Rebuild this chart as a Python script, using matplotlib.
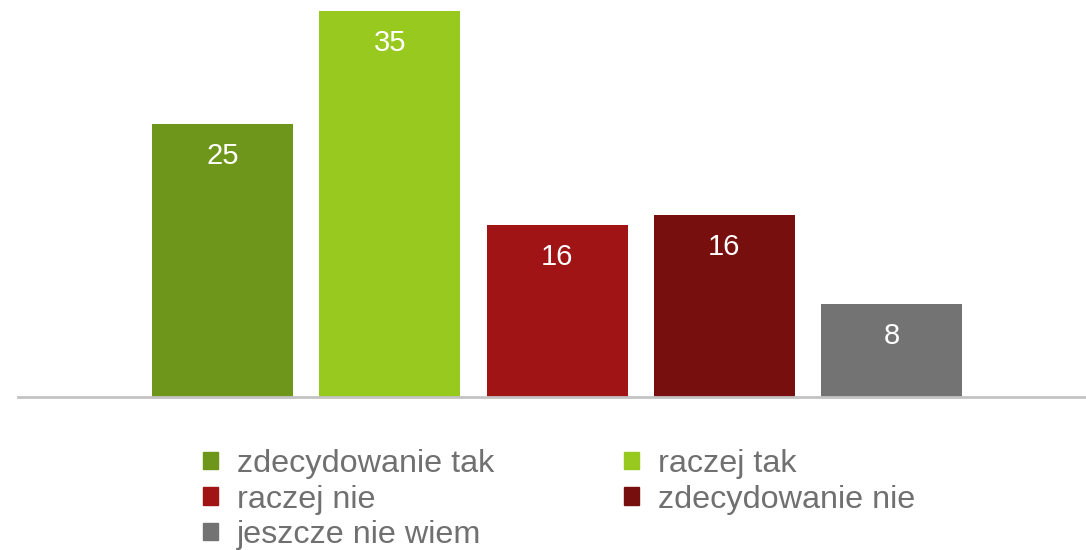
import numpy as np
import matplotlib
matplotlib.use("Agg")
import matplotlib.pyplot as plt
from matplotlib.patches import Patch

plt.rcParams['font.family'] = ['Liberation Sans', 'DejaVu Sans']

# dane
kategorie = ["zdecydowanie tak", "raczej tak", "raczej nie", "zdecydowanie nie", "jeszcze nie wiem"]
wartosci = [24.8, 35.0, 15.6, 16.5, 8.4]
etykiety = ["25", "35", "16", "16", "8"]
kolory = ["#6e961a", "#97c91f", "#a01416", "#780f0f", "#737373"]

W, H = 1086, 550
fig = plt.figure(figsize=(W / 100, H / 100), dpi=100)
ax = fig.add_axes([18 / W, (H - 397) / H, 1 - 18 / W, 397 / H])

x = np.arange(len(wartosci))
bars = ax.bar(x, wartosci, width=0.843, color=kolory, zorder=2)

for xi, v, lab in zip(x, wartosci, etykiety):
    ax.annotate(lab, (xi, v), xytext=(0, -32), textcoords="offset pixels",
                ha="center", va="center", color="white", fontsize=21)

ax.set_xlim(-1.223, 5.163)
ax.set_ylim(0, 36)
for s in ["top", "right", "left"]:
    ax.spines[s].set_visible(False)
ax.spines["bottom"].set_color("#c3c3c3")
ax.spines["bottom"].set_linewidth(2)
ax.set_xticks([])
ax.set_yticks([])

uchwyty = [Patch(color=c, label=k) for c, k in zip(kolory, kategorie)]
kolejnosc = [0, 2, 4, 1, 3]
leg = fig.legend([uchwyty[i] for i in kolejnosc], [kategorie[i] for i in kolejnosc],
                 ncol=2, loc="upper left", bbox_to_anchor=(203 / W, 1 - 449 / H),
                 frameon=False, fontsize=23.3, handlelength=0.47, handleheight=0.47,
                 handletextpad=0.58, labelspacing=0.17, columnspacing=4.0,
                 borderpad=0, borderaxespad=0)
for t in leg.get_texts():
    t.set_color("#707070")

fig.savefig("out.png", dpi=100)
